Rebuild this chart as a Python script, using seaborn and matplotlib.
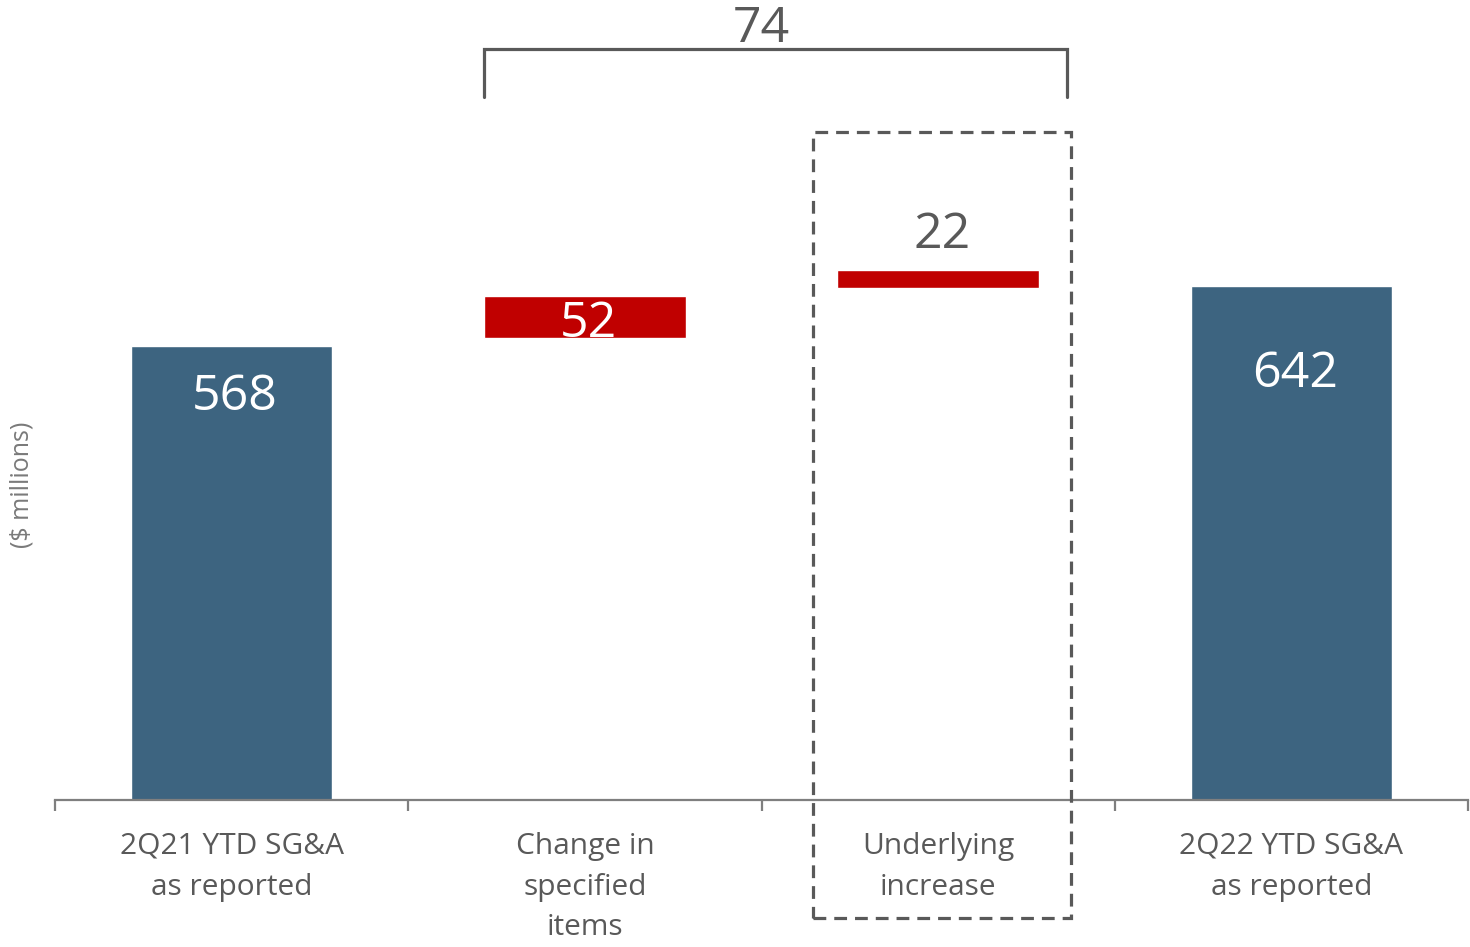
import matplotlib
matplotlib.use("Agg")
import matplotlib.pyplot as plt
import seaborn as sns
from matplotlib.patches import Rectangle

# data
categories = ["2Q21 YTD SG&A\nas reported", "Change in\nspecified\nitems",
              "Underlying\nincrease", "2Q22 YTD SG&A\nas reported"]
values = [568, 52, 22, 642]
bar_bottoms = [0, 578, 640, 0]     # floating steps, as drawn in the original
kinds = ["total", "step", "step", "total"]
total_change = 74
y_label = "($ millions)"

BLUE = "#3d6480"
RED = "#c00000"
GRAY = "#595959"

sns.set_theme(style="white")
plt.rcParams["font.family"] = ["Open Sans", "DejaVu Sans"]

fig = plt.figure(figsize=(14.7, 9.47), dpi=100)
ax = fig.add_axes([55 / 1470, 147 / 947, 1413 / 1470, 800 / 947])

palette = {"total": BLUE, "step": RED}
sns.barplot(x=categories, y=values, hue=kinds, palette=palette, dodge=False,
            width=0.57, legend=False, ax=ax, saturation=1)

# lift the step bars to their floating position
for patch in ax.patches:
    i = int(round(patch.get_x() + patch.get_width() / 2))
    patch.set_y(bar_bottoms[i])

ax.set_xlim(-0.5, 3.5)
ax.set_ylim(0, 1000)

# value labels (baseline offsets from bar top)
label_offsets = [-80, -51, 28, -126]
label_colors = ["white", "white", GRAY, "white"]
for i, v in enumerate(values):
    top = bar_bottoms[i] + v
    ax.text(i + 0.01, top + label_offsets[i], str(v), ha="center", va="baseline",
            fontsize=36, color=label_colors[i])

# bracket over the two steps with the total change
bl, br = 0.714, 2.365
ax.plot([bl, bl, br, br], [879, 939, 939, 879], color=GRAY, lw=2.3,
        solid_joinstyle="miter", clip_on=False)
ax.text(1.5, 947, str(total_change), ha="center", va="baseline",
        fontsize=36, color=GRAY, clip_on=False)

# dashed box around the underlying increase
ax.add_patch(Rectangle((1.646, -147), 0.73, 982, fill=False, edgecolor=GRAY,
                       lw=2.3, linestyle=(0, (4, 2.5)), clip_on=False, zorder=5))

# axes styling
for side in ["top", "right", "left"]:
    ax.spines[side].set_visible(False)
ax.spines["bottom"].set_color("#7f7f7f")
ax.spines["bottom"].set_linewidth(1.6)
ax.set_yticks([])
ax.set_xticks(range(4))
ax.set_xticklabels(categories, fontsize=21.5, color=GRAY, linespacing=1.53)
ax.set_xticks([-0.5, 0.5, 1.5, 2.5, 3.5], minor=True)
ax.tick_params(axis="x", which="major", length=0, pad=23)
ax.tick_params(axis="x", which="minor", length=8, width=1.6, color="#7f7f7f",
               direction="out", bottom=True)
ax.set_xlabel("")
ax.set_ylabel("")

fig.text(22 / 1470, (947 - 485) / 947, y_label, rotation=90, ha="center",
         va="center", fontsize=18, color="#7a7a7a")

fig.savefig("out.png", dpi=100)
